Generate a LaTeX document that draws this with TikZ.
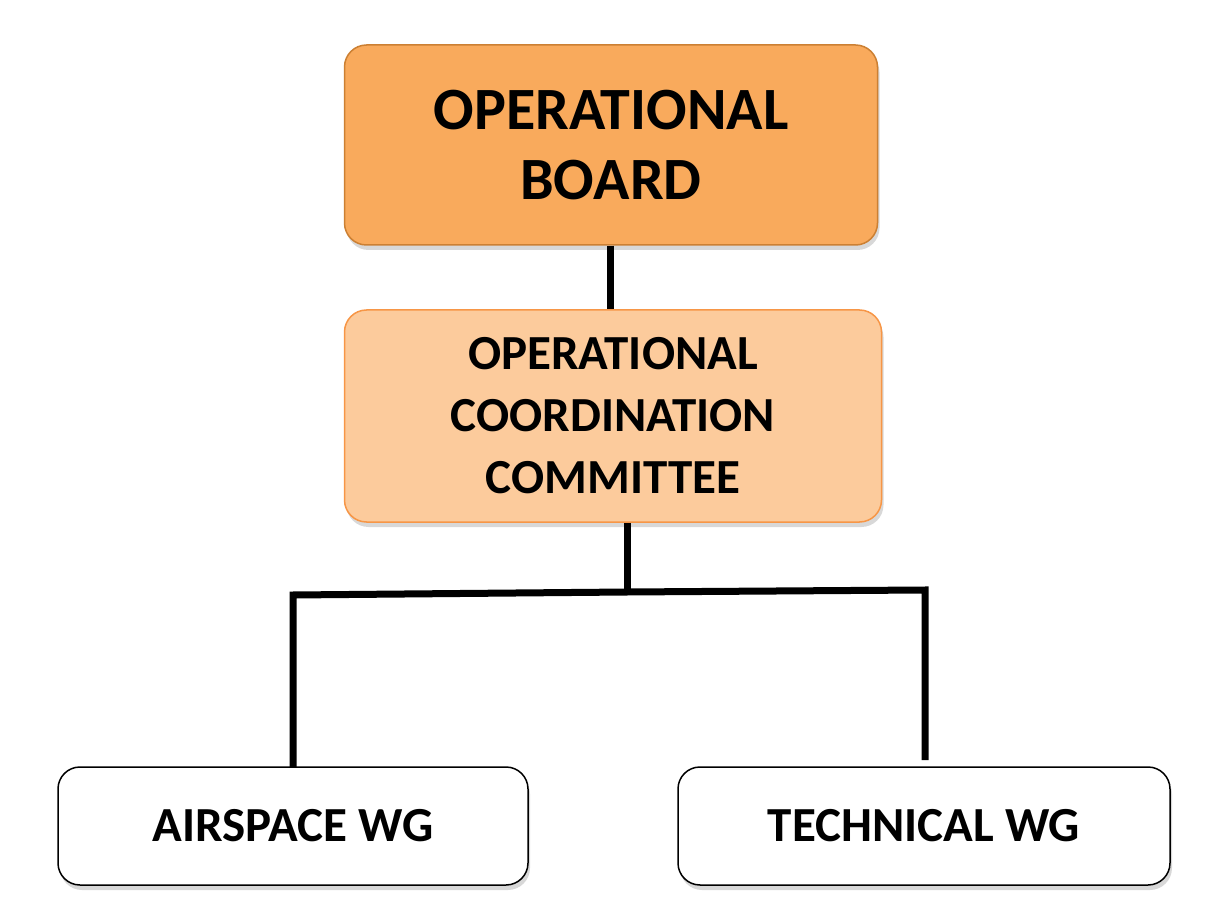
\documentclass[tikz,border=0pt]{standalone}
\usepackage{fontspec}
\setmainfont{Carlito}
\usetikzlibrary{shadows}
\begin{document}
\begin{tikzpicture}[x=1pt,y=-1pt,
  box/.style={draw,rounded corners=22pt,line width=1.5pt,align=center,font=\bfseries,
    drop shadow={shadow xshift=2pt,shadow yshift=-5pt,fill=black!30}},
  conn/.style={line width=7pt}]
\useasboundingbox (0,0) rectangle (1219,917);
\node[box,fill=orange!65!yellow!90,draw=brown!80!orange,minimum width=533pt,minimum height=200pt,font=\bfseries\fontsize{60}{70}\selectfont,fill={rgb,255:red,249;green,170;blue,92}] (ob) at (611,145) {OPERATIONAL\\BOARD};
\node[box,fill={rgb,255:red,252;green,203;blue,156},draw={rgb,255:red,247;green,150;blue,70},minimum width=537pt,minimum height=212pt,font=\bfseries\fontsize{49}{62}\selectfont] (occ) at (613,416) {OPERATIONAL\\COORDINATION\\COMMITTEE};
\node[box,fill=white,draw=black,minimum width=470pt,minimum height=118pt,font=\bfseries\fontsize{49}{60}\selectfont] (aw) at (293,826) {AIRSPACE WG};
\node[box,fill=white,draw=black,minimum width=492pt,minimum height=118pt,font=\bfseries\fontsize{49}{60}\selectfont] (tw) at (924,826) {TECHNICAL WG};
\draw[conn] (ob.south -| 610,0) -- (occ.north -| 610,0);
\coordinate (j) at (627,592);
\draw[conn] (occ.south -| j) -- (j);
\draw[conn,line join=miter] (293,767) -- (293,595) -- (j) -- (925,590) -- (925,760);
\end{tikzpicture}
\end{document}
